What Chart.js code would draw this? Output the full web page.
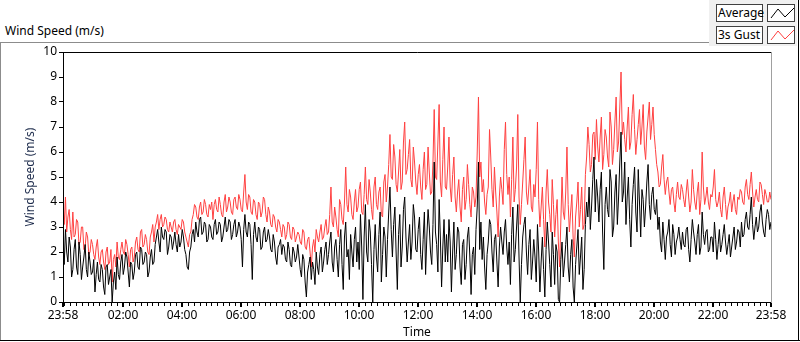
<!DOCTYPE html>
<html>
<head>
<meta charset="utf-8">
<script src="https://cdn.jsdelivr.net/npm/chart.js@4.4.1/dist/chart.umd.min.js"></script>
<style>
  body { margin: 0; background: #fff; font-family: "Noto Sans", sans-serif; }
  #wrap { position: relative; width: 800px; height: 342px; overflow: hidden; }
  #grafico { position: absolute; left: 0; top: 0; }
  .titulo { position: absolute; left: 5px; top: 22px; font-size: 12px; color: #000; }
  .linea { position: absolute; }
  .leyenda { position: absolute; left: 709px; top: 0; width: 88px; height: 46px; background: #f0f0f0; }
  .caja { position: absolute; height: 16px; border: 1px solid #404040; background: #fff; font-size: 12px; line-height: 16px; padding-left: 1px; box-sizing: border-box; }
</style>
</head>
<body>
<div id="wrap">
  <!-- marco exterior -->
  <div class="linea" style="left:0;top:42px;width:709px;height:1px;background:#8c8c8c"></div>
  <div class="linea" style="left:0;top:42px;width:1px;height:299px;background:#8c8c8c"></div>
  <div class="linea" style="left:0;top:340px;width:800px;height:1px;background:#000"></div>
  <div class="linea" style="left:798px;top:0;width:1px;height:341px;background:#000"></div>
  <div class="titulo">Wind Speed (m/s)</div>
  <canvas id="grafico" width="800" height="342"></canvas>
  <!-- leyenda -->
  <div class="leyenda">
    <div class="caja" style="left:7px;top:4px;width:47px;height:18px">Average</div>
    <div class="caja" style="left:58px;top:4px;width:28px;height:18px">
      <svg width="26" height="16"><polyline points="2,13 9,4 16,12 25,3" fill="none" stroke="#000" stroke-width="1"/></svg>
    </div>
    <div class="caja" style="left:7px;top:26px;width:47px;height:18px">3s Gust</div>
    <div class="caja" style="left:58px;top:26px;width:28px;height:18px">
      <svg width="26" height="16"><polyline points="2,13 9,4 16,12 25,3" fill="none" stroke="#ff4040" stroke-width="1"/></svg>
    </div>
  </div>
</div>
<script>
// Velocidad media (m/s), una lectura cada 2,5 minutos desde las 23:58 (una fila por hora)
const promedio = [
  2.4,1.5,2.9,2.0,1.6,2.6,2.2,1.0,1.3,2.1,2.5,1.4,1.1,2.4,1.9,0.9,1.4,1.8,2.3,1.3,1.0,2.0,1.6,1.1,
  1.2,1.7,0.4,1.1,1.6,0.9,0.8,1.5,1.3,0.6,0.3,1.4,1.5,0.7,1.0,1.3,0.0,0.8,1.2,0.5,1.8,1.1,0.9,1.6,
  1.9,1.1,1.4,2.0,1.8,1.2,0.6,1.6,1.5,0.9,1.2,1.9,2.0,1.4,1.3,2.2,2.1,1.5,1.6,2.0,1.9,1.0,1.2,1.8,
  2.1,1.5,1.6,2.3,2.6,2.9,2.4,2.0,3.0,2.6,2.5,2.9,2.8,1.9,2.2,2.7,2.6,2.1,2.4,2.8,2.3,2.0,2.7,2.2,
  2.4,2.9,2.6,2.1,1.9,1.4,1.3,2.0,2.2,2.7,2.9,2.4,3.2,2.8,2.6,3.3,3.4,2.7,2.8,3.2,3.1,2.4,2.5,3.1,
  3.0,2.6,2.5,3.1,3.3,2.7,2.8,3.2,3.1,2.4,2.6,3.0,3.4,2.8,2.9,3.3,3.2,2.5,2.7,3.1,3.3,2.6,2.8,3.2,
  3.0,2.5,1.4,2.9,3.5,2.8,2.6,3.2,3.1,2.3,0.9,2.7,3.2,2.6,2.4,3.0,2.9,2.1,2.2,2.8,3.0,2.4,2.5,2.9,
  2.6,2.1,2.0,2.7,2.4,1.8,1.5,2.2,2.3,2.5,1.9,2.3,2.2,1.7,1.6,2.4,2.1,1.5,1.4,2.2,2.0,1.6,1.8,2.3,
  1.8,1.3,1.0,1.9,1.7,0.8,0.2,1.2,1.5,1.8,0.9,1.6,1.3,0.7,2.0,1.4,1.1,1.9,2.2,1.2,1.6,2.1,2.4,1.5,
  1.9,2.4,2.8,1.6,1.2,2.2,2.5,1.7,1.0,2.3,2.9,1.5,0.5,2.6,3.2,1.8,2.1,0.9,2.7,2.0,1.4,2.5,3.0,1.6,
  2.4,1.3,3.5,2.2,0.1,2.6,3.9,2.0,1.6,3.3,2.8,1.5,0.0,2.1,3.1,1.8,1.2,2.7,3.6,0.8,1.9,3.0,2.6,1.0,
  2.5,3.6,4.6,2.9,1.8,3.1,3.8,2.0,0.5,2.7,3.5,1.4,2.2,3.7,4.2,2.6,1.6,2.4,3.1,1.7,2.4,3.9,3.4,2.1,
  2.0,2.9,3.4,1.9,1.3,2.5,3.6,1.1,2.6,3.7,3.0,2.0,1.5,3.1,5.6,2.8,2.3,1.2,4.1,2.6,0.6,2.2,3.3,1.6,
  2.7,1.6,3.3,2.4,0.4,2.0,3.2,1.3,1.9,3.0,2.8,1.4,0.7,2.3,2.5,0.9,1.5,2.6,3.0,1.8,0.3,1.9,2.2,1.1,
  2.9,3.8,5.6,2.1,3.2,1.7,2.6,1.4,0.5,1.9,2.4,3.3,3.1,2.0,1.2,2.5,2.7,1.6,0.6,2.2,3.0,2.4,1.9,2.8,
  3.3,2.2,1.5,2.4,0.7,2.7,3.8,1.6,2.1,3.0,3.9,1.8,0.0,1.5,2.6,3.1,3.4,2.0,1.1,2.3,2.9,0.9,1.6,2.5,
  1.8,0.8,3.1,2.0,0.4,1.6,2.6,1.3,0.2,2.1,3.2,2.4,1.5,0.6,2.8,1.9,0.7,2.3,2.0,0.1,0.0,1.7,2.4,1.0,
  1.6,2.3,3.0,1.4,0.8,1.9,2.5,0.6,0.0,1.5,2.2,2.9,1.1,1.8,2.6,0.5,1.3,3.1,4.0,3.4,4.6,2.9,3.8,4.9,
  5.8,3.6,4.9,4.2,3.2,4.5,5.2,2.8,1.3,3.9,4.6,3.7,3.4,5.3,4.8,2.6,3.0,4.4,5.1,3.1,4.2,5.6,6.8,4.0,
  4.4,5.6,3.1,4.2,5.0,3.3,2.2,3.9,4.7,5.4,3.6,2.8,5.3,4.0,2.6,4.5,4.1,3.0,3.8,4.8,5.5,3.9,3.3,4.3,
  4.6,3.7,3.5,4.1,2.9,3.4,2.4,2.0,3.2,2.5,1.7,2.6,2.8,3.3,2.3,1.8,3.1,2.7,1.9,2.4,2.6,3.0,2.5,2.1,
  2.8,2.3,2.2,2.9,3.0,2.1,1.6,2.5,3.3,2.8,2.4,1.9,2.7,3.1,1.9,2.2,3.6,2.7,2.3,2.8,2.9,2.0,2.1,2.6,
  2.6,2.0,3.2,2.5,1.7,2.3,2.9,2.0,2.3,2.7,3.1,2.4,1.9,2.3,2.7,1.8,2.2,2.6,3.0,2.1,2.4,2.9,2.8,2.2,
  3.2,2.6,2.7,3.3,3.6,3.0,2.9,3.5,4.2,3.1,2.5,3.0,3.4,2.8,3.0,3.6,3.9,3.2,2.8,2.6,3.3,3.7,3.5,2.9,
  3.2
];

// Ráfaga de 3 segundos (m/s)
const rafaga = [
  3.8,3.1,4.2,2.8,3.4,3.7,2.9,2.5,3.6,2.6,2.7,3.3,3.2,2.3,2.4,3.0,3.0,2.1,2.2,2.8,2.6,1.9,2.0,2.5,
  2.3,1.9,1.7,2.2,2.5,1.8,1.5,2.0,2.1,1.6,1.3,2.0,2.2,1.5,1.6,2.1,0.8,1.7,1.9,1.4,2.4,1.8,1.7,2.1,
  2.4,2.0,1.9,2.5,2.3,1.9,1.4,2.1,2.2,1.6,1.8,2.4,2.6,2.1,2.0,2.8,2.9,2.2,2.3,2.7,2.5,2.0,1.9,2.6,
  2.8,3.1,2.4,3.0,3.2,3.5,2.9,3.3,3.5,3.0,3.1,3.4,3.3,2.9,2.8,3.2,3.0,2.8,3.2,3.3,2.9,2.7,3.1,3.0,
  2.9,3.3,3.2,2.8,2.6,2.4,2.2,2.7,2.8,3.3,3.5,3.9,3.8,3.4,3.3,3.8,4.0,3.5,3.6,4.1,3.9,3.5,3.4,3.9,
  3.7,4.0,3.3,3.9,4.1,3.7,3.6,4.2,3.9,3.5,3.4,4.0,4.3,3.6,3.8,4.2,4.0,3.6,3.5,4.1,4.2,3.8,3.7,4.3,
  4.1,3.7,3.6,4.4,5.1,4.0,3.7,4.3,4.2,3.6,3.5,4.1,4.0,3.5,3.3,4.0,3.9,3.4,3.6,4.2,4.1,3.5,3.2,3.8,
  3.6,3.1,3.0,3.5,3.4,3.0,2.8,3.3,3.2,2.9,2.6,3.1,3.0,2.5,2.7,3.2,3.1,2.6,2.5,3.0,2.9,2.4,2.6,2.8,
  2.7,2.4,2.3,2.9,2.8,2.2,2.1,2.5,2.6,2.0,1.4,2.2,2.5,2.0,2.9,2.6,2.4,2.8,3.1,2.5,2.6,3.0,3.3,2.7,
  2.8,3.5,4.6,3.2,3.0,3.8,3.4,2.9,2.6,4.1,3.9,3.3,3.1,4.0,5.4,3.9,3.6,4.5,4.2,3.5,3.3,4.0,4.5,3.6,
  3.8,4.5,4.8,3.6,3.5,4.3,5.4,4.1,3.9,4.9,4.4,3.7,3.3,4.6,5.0,3.9,3.7,4.4,4.6,3.5,3.4,4.8,5.1,4.0,
  4.6,5.5,6.7,5.0,4.9,6.3,5.8,4.7,4.4,5.2,6.1,4.5,4.8,6.4,7.2,5.1,5.3,5.9,6.5,4.9,4.6,6.2,5.6,4.8,
  4.3,5.1,5.5,4.6,4.1,5.3,6.0,4.5,4.7,6.2,5.2,4.3,4.4,5.6,7.7,5.0,4.9,6.4,7.9,4.8,4.2,5.7,7.0,4.6,
  4.5,5.4,6.6,4.6,4.0,5.1,5.8,4.2,3.6,4.4,4.9,3.8,3.2,4.5,5.0,3.7,4.1,5.5,4.7,3.9,3.4,4.6,4.4,3.8,
  4.2,6.0,8.2,5.0,5.6,4.4,4.9,4.0,3.5,4.3,4.6,6.9,5.8,4.5,3.8,5.4,4.4,3.6,2.6,4.2,5.0,4.5,3.9,6.1,
  7.2,5.1,4.3,5.0,3.4,4.9,6.6,4.0,4.5,5.4,7.5,4.2,3.1,3.9,4.8,5.7,6.6,4.4,3.9,4.6,5.3,3.8,3.6,4.7,
  4.2,5.3,7.2,4.1,3.0,3.8,4.6,3.3,2.2,4.4,5.3,4.0,3.5,2.8,4.9,3.9,2.6,3.5,4.1,2.4,1.4,3.2,5.0,3.6,
  3.3,4.4,6.2,3.9,2.8,3.6,4.3,2.6,1.8,3.4,4.0,4.8,3.0,3.7,4.6,2.9,3.1,5.1,5.8,7.0,6.3,5.2,5.5,6.7,
  6.8,5.7,7.3,6.2,5.6,6.6,7.4,5.3,5.9,6.9,6.6,5.8,5.4,7.6,7.0,5.5,6.1,7.2,8.2,6.0,6.4,7.8,9.2,6.7,
  7.2,6.5,6.0,7.0,7.8,6.1,6.4,7.5,8.3,6.9,5.9,6.5,7.1,7.7,6.3,7.0,7.9,6.2,5.7,6.8,7.4,8.0,6.5,7.1,
  7.8,6.7,6.1,5.5,5.2,4.6,4.7,5.4,5.9,4.9,4.3,4.8,5.0,4.4,3.9,4.5,4.6,4.0,3.6,4.3,4.8,4.2,4.1,4.7,
  4.5,4.1,3.8,4.4,4.9,4.2,3.6,4.0,5.3,4.5,4.0,3.7,4.4,4.8,3.5,4.1,6.0,4.6,3.9,4.2,4.6,4.0,3.7,4.3,
  4.2,4.6,5.3,4.1,3.8,4.0,4.4,3.7,3.4,4.2,4.6,3.9,3.3,3.8,4.0,4.4,3.6,4.0,4.3,3.7,3.5,4.2,4.1,4.5,
  4.4,4.0,3.9,4.6,4.9,4.3,4.1,4.7,5.2,4.4,3.8,4.2,4.5,4.1,4.0,4.8,4.7,4.3,3.9,4.5,4.3,4.0,4.0,4.4,
  4.1
];

// Minutos transcurridos desde las 23:58 para cada lectura
const minutos = promedio.map((_, i) => i * 2.5);

// Marcas principales del eje de tiempo (minutos desde 23:58)
const ticksX = [0, 122, 242, 362, 482, 602, 722, 842, 962, 1082, 1202, 1322, 1440];
const ticksY = [0, 1, 2, 3, 4, 5, 6, 7, 8, 9, 10];

const fuente = { family: '"Noto Sans", sans-serif', size: 12 };

/*Función para convertir minutos en etiqueta HH:MM*/
function etiquetaHora(v) {
  const total = (1438 + v) % 1440;
  const h = Math.floor(total / 60), m = total % 60;
  return String(h).padStart(2, '0') + ':' + String(m).padStart(2, '0');
}

// Plugin para el marco del área y las marcas menores cada 12 minutos
const marcoPlugin = {
  id: 'marco',
  afterDraw(chart) {
    const { ctx, chartArea: a, scales: { x } } = chart;
    ctx.save();
    ctx.strokeStyle = '#000';
    ctx.lineWidth = 1;
    ctx.beginPath();
    for (let m = 2; m < 1440; m += 12) {
      if (ticksX.includes(m)) continue;
      const px = Math.round(x.getPixelForValue(m)) + 0.5;
      ctx.moveTo(px, a.bottom);
      ctx.lineTo(px, a.bottom + 4);
    }
    ctx.stroke();
    ctx.beginPath();
    ctx.moveTo(a.left + 0.5, a.bottom);
    ctx.lineTo(a.left + 0.5, a.top + 0.5);
    ctx.lineTo(a.right, a.top + 0.5);
    ctx.stroke();
    ctx.beginPath();
    ctx.strokeStyle = '#a0a0a0';
    ctx.moveTo(a.right + 0.5, a.top);
    ctx.lineTo(a.right + 0.5, a.bottom + 1);
    ctx.stroke();
    ctx.restore();
  }
};

const ctx = document.getElementById('grafico').getContext('2d');
new Chart(ctx, {
  type: 'line',
  data: {
    datasets: [
      {
        label: 'Average',
        data: minutos.map((m, i) => ({ x: m, y: promedio[i] })),
        borderColor: '#000',
        borderWidth: 1,
        pointRadius: 0,
        tension: 0
      },
      {
        label: '3s Gust',
        data: minutos.map((m, i) => ({ x: m, y: rafaga[i] })),
        borderColor: '#ff4040',
        borderWidth: 1,
        pointRadius: 0,
        tension: 0
      }
    ]
  },
  options: {
    responsive: false,
    animation: false,
    devicePixelRatio: 1,
    layout: { padding: { top: 52, right: 29, left: 0, bottom: 0 } },
    plugins: { legend: { display: false }, tooltip: { enabled: false } },
    scales: {
      x: {
        type: 'linear',
        min: 0,
        max: 1440,
        afterBuildTicks: s => { s.ticks = ticksX.map(v => ({ value: v })); },
        afterFit: s => { s.height = 40; },
        ticks: { callback: v => etiquetaHora(v), font: fuente, color: '#000', maxRotation: 0, autoSkip: false, padding: 1 },
        grid: { drawOnChartArea: false, color: '#000', lineWidth: 2, tickLength: 5 },
        border: { color: '#000', width: 1 },
        title: { display: true, text: 'Time', font: fuente, color: '#000', padding: { top: 0, bottom: 2 } }
      },
      y: {
        min: 0,
        max: 10,
        afterBuildTicks: s => { s.ticks = ticksY.map(v => ({ value: v })); },
        afterFit: s => { s.width = 63; },
        ticks: { font: fuente, color: '#000', padding: 2 },
        grid: { drawOnChartArea: false, color: '#000', tickLength: 4 },
        border: { color: '#000', width: 1 },
        title: { display: true, text: 'Wind Speed (m/s)', font: fuente, color: '#1f2d4d', padding: { top: 23, bottom: 0 } }
      }
    }
  },
  plugins: [marcoPlugin]
});
</script>
</body>
</html>
